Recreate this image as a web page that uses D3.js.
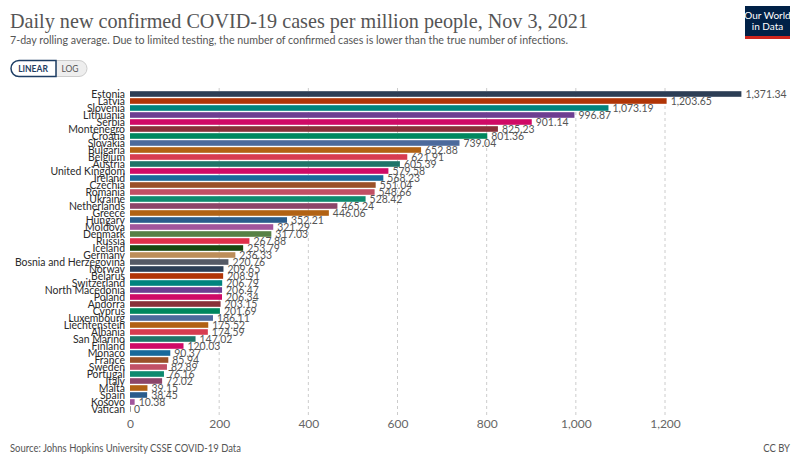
<!DOCTYPE html>
<html><head><meta charset="utf-8">
<script src="https://cdn.jsdelivr.net/npm/d3@7"></script>
<style>
html,body{margin:0;padding:0;background:#fff;}
svg{display:block;font-family:Lato,"Noto Sans",sans-serif;}
</style></head>
<body><svg id="chart" width="800" height="466"></svg>
<script>
const countries = ["Estonia","Latvia","Slovenia","Lithuania","Serbia","Montenegro","Croatia","Slovakia","Bulgaria","Belgium","Austria","United Kingdom","Ireland","Czechia","Romania","Ukraine","Netherlands","Greece","Hungary","Moldova","Denmark","Russia","Iceland","Germany","Bosnia and Herzegovina","Norway","Belarus","Switzerland","North Macedonia","Poland","Andorra","Cyprus","Luxembourg","Liechtenstein","Albania","San Marino","Finland","Monaco","France","Sweden","Portugal","Italy","Malta","Spain","Kosovo","Vatican"];
const values = [1371.34,1203.65,1073.19,996.87,901.14,825.23,801.36,739.04,652.88,621.91,605.39,579.58,568.23,551.04,548.66,528.42,465.24,446.06,352.21,321.29,317.03,267.88,253.79,236.33,220.76,209.65,208.91,206.79,206.47,206.34,203.15,201.69,186.11,175.52,174.59,147.02,120.03,90.37,85.94,82.89,76.16,72.02,39.15,38.45,10.38,0];
const xTicks = [0,200,400,600,800,1000,1200];
const palette = ["#2c3e55","#b13507","#00847e","#6d3e91","#cf0a66","#883039","#00875e","#4c6a9c","#b16214","#d73c50","#1f7468","#cf0a66","#18699b","#9a5129","#c15065","#0e8a6e","#8c4569","#b16214","#2a5c8c","#a2559c","#578145","#e0304a","#18470f","#bc8e5a","#555a66"];

const svg = d3.select("#chart");
const x = d3.scaleLinear().domain([0,1200]).range([130,665]);
const y = d3.scaleBand().domain(countries).range([90.5,412.5]).paddingInner(0.2).paddingOuter(0.1);

function condense(sel, k){
  sel.each(function(){
    const w = this.getComputedTextLength();
    d3.select(this).attr("textLength", w*k).attr("lengthAdjust","spacingAndGlyphs");
  });
}

// title
svg.append("text").attr("x",10).attr("y",28).attr("font-family","'Liberation Serif','DejaVu Serif',serif")
  .attr("font-size",21).attr("fill","#555").attr("textLength",578).attr("lengthAdjust","spacingAndGlyphs")
  .text("Daily new confirmed COVID-19 cases per million people, Nov 3, 2021");
svg.append("text").attr("x",10).attr("y",44).attr("font-size",11.5).attr("fill","#555")
  .attr("textLength",558).attr("lengthAdjust","spacingAndGlyphs")
  .text("7-day rolling average. Due to limited testing, the number of confirmed cases is lower than the true number of infections.");

// logo
const logo = svg.append("g");
logo.append("rect").attr("x",745).attr("y",6).attr("width",45).attr("height",33).attr("fill","#002147");
logo.append("rect").attr("x",745).attr("y",36).attr("width",45).attr("height",3).attr("fill","#ce261e");
logo.append("text").attr("x",767.5).attr("y",19).attr("text-anchor","middle").attr("fill","#fff").attr("font-size",10).text("Our World");
logo.append("text").attr("x",767.5).attr("y",30).attr("text-anchor","middle").attr("fill","#fff").attr("font-size",10).text("in Data");

// buttons
const b = svg.append("g");
b.append("path").attr("d","M56,60.5 H79 A8,8 0 0 1 79,76.5 H56 Z").attr("fill","#eee").attr("stroke","#ccc");
b.append("path").attr("d","M56,60.5 H19 A8,8 0 0 0 19,76.5 H56 Z").attr("fill","#fff").attr("stroke","#1d3d63").attr("stroke-width",1.5);
b.append("text").attr("x",33).attr("y",71.5).attr("text-anchor","middle").attr("font-size",8.5).attr("font-weight",700).attr("fill","#1d3d63").text("LINEAR");
b.append("text").attr("x",70).attr("y",71.5).attr("text-anchor","middle").attr("font-size",8.5).attr("fill","#555").text("LOG");

// grid
svg.append("g").selectAll("line").data(xTicks.filter(d=>d>0)).join("line")
  .attr("x1",d=>x(d)).attr("x2",d=>x(d)).attr("y1",88).attr("y2",416)
  .attr("stroke","#ccc").attr("stroke-dasharray","3,3");

// axis labels
const ax = svg.append("g").attr("transform","translate(0,413)")
  .call(d3.axisBottom(x).tickValues(xTicks).tickSize(0).tickPadding(6).tickFormat(d3.format(",")));
ax.select(".domain").remove();
ax.selectAll("text").attr("font-size",12).attr("fill","#666").attr("font-family","Lato,sans-serif");

// bars
svg.append("g").selectAll("rect").data(countries).join("rect")
  .attr("x",x(0)).attr("y",d=>y(d)).attr("height",y.bandwidth())
  .attr("width",(d,i)=>Math.max(1,x(values[i])-x(0)))
  .attr("fill",(d,i)=> values[i]===0 ? "#999" : palette[i%palette.length]);

// country labels
const cl = svg.append("g").selectAll("text").data(countries).join("text")
  .attr("x",125).attr("y",d=>y(d)+y.bandwidth()/2).attr("dy","0.36em")
  .attr("text-anchor","end").attr("font-size",12).attr("fill","#2a2a2a").text(d=>d);
condense(cl, 0.87);

// value labels
const fmt = d3.format(",.2f");
const vl = svg.append("g").selectAll("text").data(countries).join("text")
  .attr("x",(d,i)=>x(values[i])+4).attr("y",d=>y(d)+y.bandwidth()/2).attr("dy","0.36em")
  .attr("font-size",12).attr("fill","#555").text((d,i)=>values[i]===0?"0":fmt(values[i]));
condense(vl, 0.87);

// footer
const f1 = svg.append("text").attr("x",10).attr("y",452).attr("font-size",10.5).attr("fill","#555").text("Source: Johns Hopkins University CSSE COVID-19 Data");
condense(f1, 0.9);
const f2 = svg.append("text").attr("x",790).attr("y",452).attr("text-anchor","end").attr("font-size",10.5).attr("fill","#555").text("CC BY");
f2.attr("textLength",f2.node().getComputedTextLength()*0.9).attr("lengthAdjust","spacingAndGlyphs");
</script></body></html>
